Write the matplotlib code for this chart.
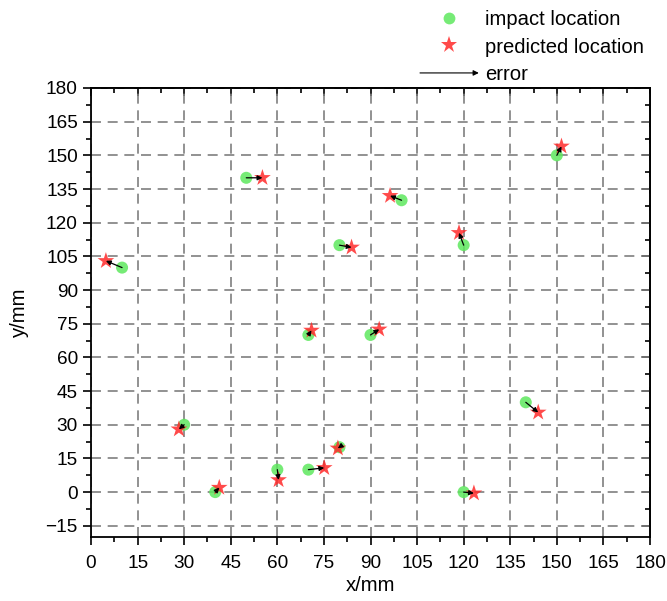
import matplotlib
matplotlib.use('Agg')
import matplotlib.pyplot as plt
from matplotlib.lines import Line2D
from matplotlib.patches import FancyArrowPatch
from matplotlib.legend_handler import HandlerBase
from matplotlib.ticker import MultipleLocator

plt.rcParams['font.family'] = ['Liberation Sans', 'DejaVu Sans']

# impact (true) locations
impact_x = [50, 10, 80, 150, 100, 120, 70, 90, 30, 40, 60, 70, 80, 140, 120]
impact_y = [140, 100, 110, 150, 130, 110, 70, 70, 30, 0, 10, 10, 20, 40, 0]
# predicted locations
pred_x = [55.2, 4.8, 83.9, 151.5, 96.3, 118.5, 71.0, 92.8, 28.3, 41.3, 60.4, 75.1, 79.5, 144.0, 123.3]
pred_y = [140.0, 103.0, 109.0, 154.0, 132.0, 115.5, 72.0, 72.5, 28.0, 2.0, 5.4, 10.8, 19.5, 35.5, -0.5]

x_ticks = list(range(0, 181, 15))
y_ticks = list(range(-15, 181, 15))

green = '#5ee85e'
red = '#ff2a2a'

fig = plt.figure(figsize=(6.67, 6.01), dpi=100)
ax = fig.add_axes([91/667, 1-537/601, (650-91)/667, (537-88)/601])

ax.set_xlim(0, 180)
ax.set_ylim(-20, 180)
ax.set_xticks(x_ticks)
ax.set_yticks(y_ticks)
ax.xaxis.set_minor_locator(MultipleLocator(7.5))
ax.yaxis.set_minor_locator(MultipleLocator(7.5))

ax.grid(True, which='major', color='#7f7f7f', lw=1.2, linestyle=(0, (6.0, 4.0)))
ax.set_axisbelow(True)

ax.scatter(impact_x, impact_y, s=75, marker='o', color=green, alpha=0.85, edgecolors='none', zorder=3)
ax.scatter(pred_x, pred_y, s=160, marker='*', color=red, alpha=0.85, edgecolors='none', zorder=4)
for x0, y0, x1, y1 in zip(impact_x, impact_y, pred_x, pred_y):
    ax.annotate('', xy=(x1, y1), xytext=(x0, y0),
                arrowprops=dict(arrowstyle='-|>', color='black', lw=0.9,
                                mutation_scale=7, shrinkA=0, shrinkB=0),
                zorder=5)

for s in ax.spines.values():
    s.set_linewidth(1.3)
ax.tick_params(which='both', direction='out', width=1.2, labelsize=13.7)
ax.tick_params(which='major', length=6)
ax.tick_params(which='minor', length=3.5)
ax.tick_params(axis='x', which='major', pad=7)
# mirrored ticks on top/right pointing inward
secx = ax.secondary_xaxis('top')
secx.set_xticks(x_ticks)
secx.xaxis.set_minor_locator(MultipleLocator(7.5))
secx.tick_params(which='both', direction='in', width=1.2, labeltop=False)
secx.tick_params(which='major', length=6)
secx.tick_params(which='minor', length=3.5)
secx.spines['top'].set_linewidth(1.3)
secy = ax.secondary_yaxis('right')
secy.set_yticks(y_ticks)
secy.yaxis.set_minor_locator(MultipleLocator(7.5))
secy.tick_params(which='both', direction='in', width=1.2, labelright=False)
secy.tick_params(which='major', length=6)
secy.tick_params(which='minor', length=3.5)
secy.spines['right'].set_linewidth(1.3)

ax.set_xlabel('x/mm', fontsize=14.6, labelpad=3)
ax.set_ylabel('y/mm', fontsize=14.6, labelpad=12)


class ArrowHandler(HandlerBase):
    def create_artists(self, legend, orig_handle, xdescent, ydescent, width, height, fontsize, trans):
        y = height / 2 - ydescent
        a = FancyArrowPatch((-xdescent, y), (-xdescent + width, y), arrowstyle='-|>',
                            mutation_scale=8, lw=0.8, color='black', transform=trans,
                            shrinkA=0, shrinkB=0)
        return [a]


h_imp = Line2D([], [], marker='o', ls='none', color=green, alpha=0.85, markersize=8.5, markeredgewidth=0)
h_pred = Line2D([], [], marker='*', ls='none', color=red, alpha=0.85, markersize=12.5, markeredgewidth=0)
h_err = FancyArrowPatch((0, 0), (1, 1))
fig.legend([h_imp, h_pred, h_err], ['impact location', 'predicted location', 'error'],
           handler_map={h_err: ArrowHandler()}, loc='upper left',
           bbox_to_anchor=(420/667, 1-10/601), frameon=False, fontsize=14.6,
           handlelength=2.9, handletextpad=0.3, labelspacing=0.42, borderpad=0,
           borderaxespad=0)

fig.savefig('out.png', dpi=100)
